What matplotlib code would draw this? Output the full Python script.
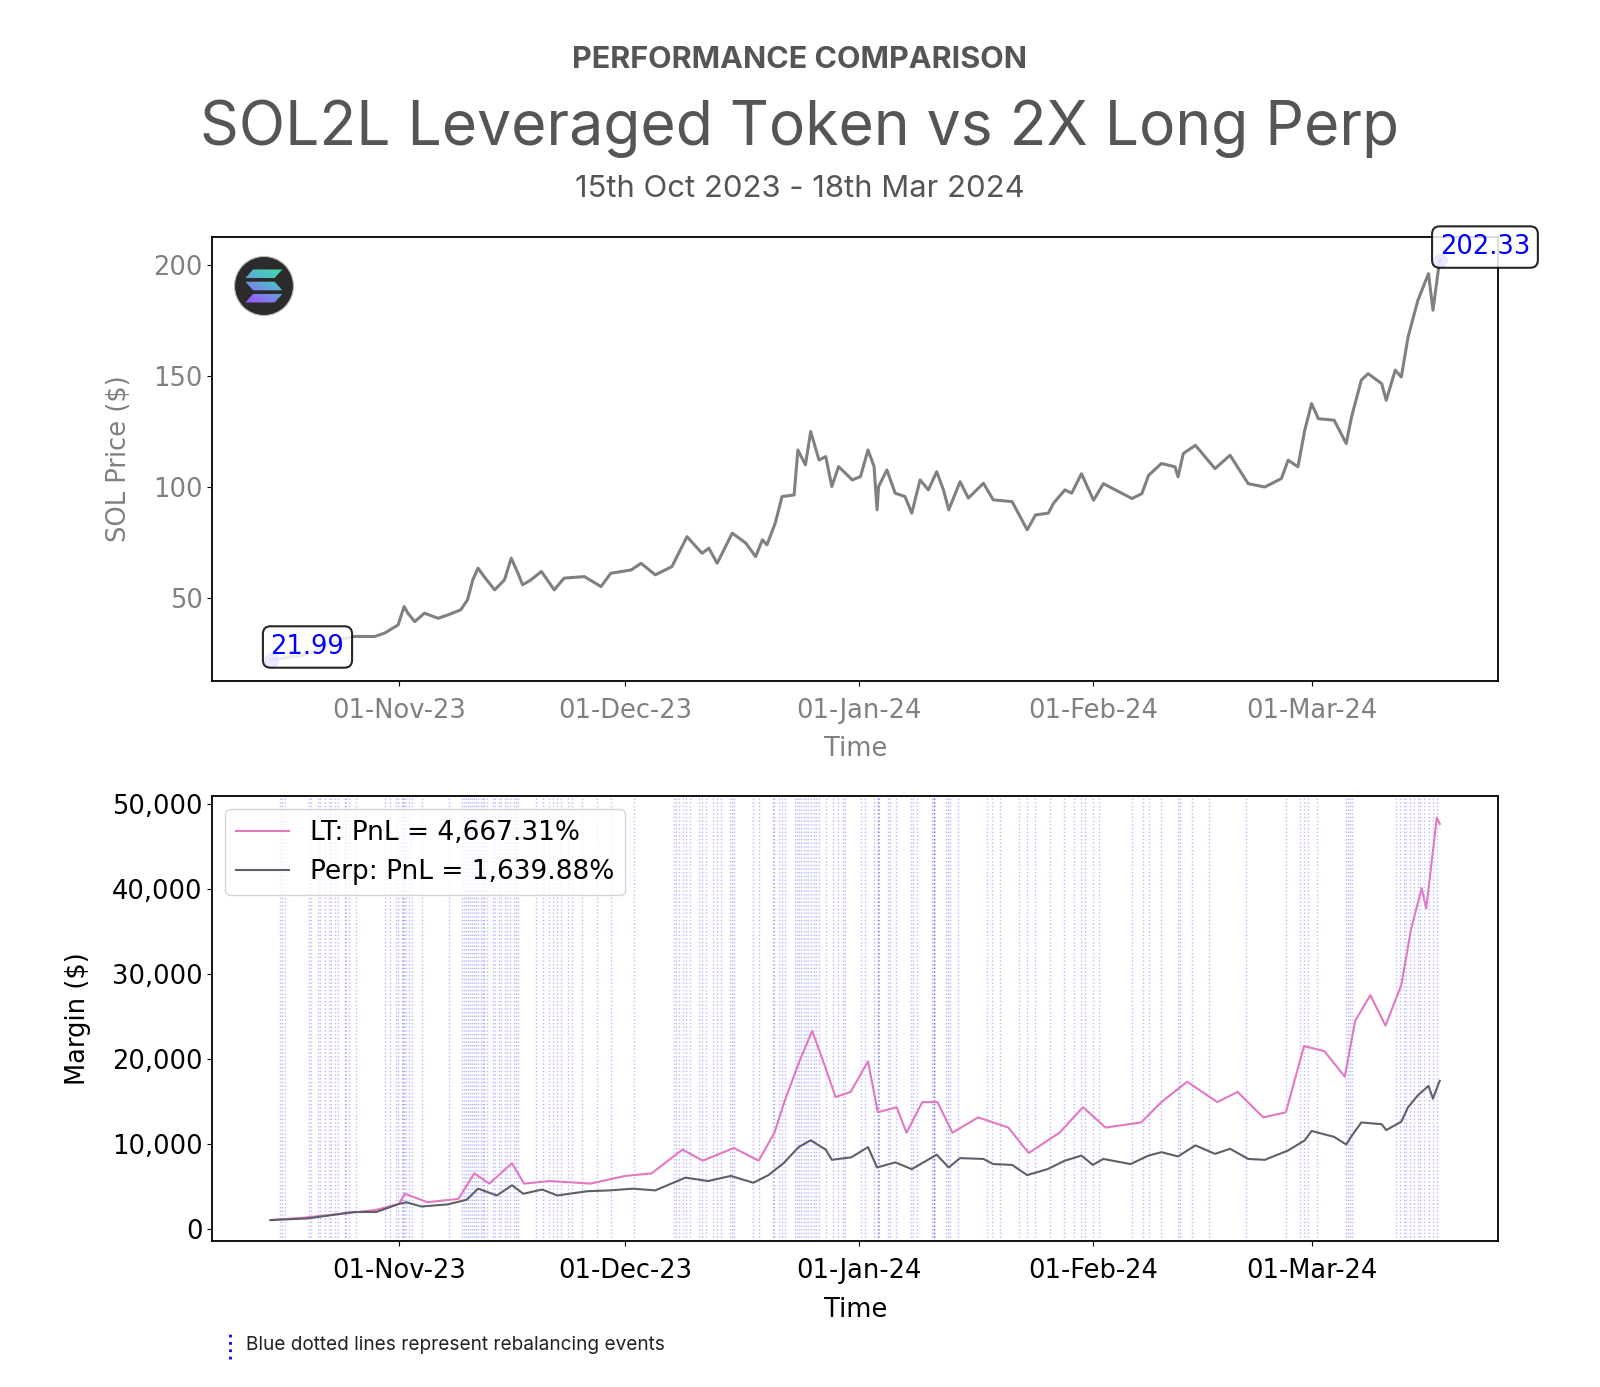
import numpy as np
import pandas as pd
import matplotlib
matplotlib.use("Agg")
from matplotlib import pyplot as plt
import matplotlib.dates as mdates
from matplotlib.patches import Circle, Polygon
from matplotlib.lines import Line2D
from matplotlib.colors import LinearSegmentedColormap
from matplotlib.ticker import FuncFormatter

plt.rcParams["font.family"] = "DejaVu Sans"

start = pd.Timestamp("2023-10-15")

# SOL price (days after 15 Oct 2023, $)
price_days = [0, 3, 5, 7, 9, 11.1, 13.8, 15.1, 16.9, 17.7, 18.2, 19.1, 20.4, 22.2, 23.5,
              25.2, 26.1, 26.8, 27.5, 28.3, 29.7, 31.0, 31.9, 32.8, 33.4, 34.5, 35.9,
              37.6, 38.9, 41.6, 43.8, 45.1, 47.8, 49.1, 51.0, 53.2, 55.2, 57.2, 58.1,
              59.2, 61.2, 63.0, 64.3, 65.2, 65.8, 66.9, 67.8, 69.4, 69.9, 70.9, 71.6,
              72.7, 73.6, 74.4, 75.3, 77.1, 78.2, 79.2, 80.0, 80.4, 80.6, 81.7, 82.8,
              84.1, 85.0, 86.1, 87.2, 88.3, 89.2, 89.9, 91.4, 92.5, 94.5, 95.8, 98.3,
              100.3, 101.4, 103.1, 103.8, 105.3, 106.2, 107.5, 109.1, 110.4, 114.2,
              115.5, 116.4, 118.1, 119.9, 120.3, 121.0, 122.6, 125.2, 127.2, 129.6,
              131.8, 134.0, 134.9, 136.2, 137.1, 138.0, 138.9, 141.0, 142.6, 143.3,
              144.6, 145.5, 147.3, 147.9, 149.1, 149.9, 150.8, 152.1, 153.5, 154.1,
              154.8, 155.0]
price_vals = [21.99, 23.5, 24.5, 28.0, 31.0, 32.6, 32.6, 34.1, 37.8, 46.1, 43.1, 39.3, 43.1,
              40.8, 42.3, 44.6, 49.1, 58.1, 63.4, 59.6, 53.6, 58.1, 67.9, 61.1, 55.9,
              58.1, 61.9, 53.6, 58.9, 59.6, 55.1, 61.1, 62.6, 65.6, 60.4, 64.1, 77.6,
              70.1, 72.4, 65.6, 79.2, 74.7, 68.6, 76.2, 73.9, 83.7, 95.7, 96.4, 116.7,
              110.0, 125.0, 112.2, 113.7, 100.2, 109.2, 103.2, 104.7, 116.7, 109.2,
              89.7, 100.2, 107.7, 97.2, 95.7, 88.2, 103.2, 98.7, 106.9, 98.7, 89.7,
              102.4, 95.0, 101.7, 94.2, 93.4, 80.7, 87.4, 88.2, 92.7, 98.7, 97.2,
              106.0, 94.0, 101.5, 94.8, 97.0, 105.3, 110.6, 109.1, 104.6, 115.1, 118.8,
              108.3, 114.3, 101.5, 100.0, 103.8, 112.1, 109.1, 125.6, 137.6, 130.8,
              130.1, 119.6, 131.6, 148.2, 151.1, 146.6, 139.1, 152.7, 149.6, 167.7,
              184.2, 196.2, 179.7, 197.7, 202.33]

# Margin of the leveraged token and the 2x perp ($)
lt_days = [0, 4.6, 10, 14, 17, 17.8, 20.8, 24.9, 27, 29, 32, 33.6, 37, 42.4, 47, 50.5,
           54.6, 57.3, 61.4, 64.7, 66.8, 68.1, 70.1, 71.8, 73.5, 74.9, 76.9, 79.2,
           80.5, 83, 84.3, 86.4, 88.4, 90.4, 93.8, 97.8, 100.5, 104.6, 107.7, 110.7,
           115.4, 118.1, 121.5, 125.5, 128.2, 131.6, 134.6, 137, 139.7, 142.4, 143.8,
           145.8, 147.8, 149.9, 151.2, 152.6, 153.2, 154.3, 154.6, 155]
lt_vals = [1000, 1300, 1800, 2200, 2900, 4100, 3100, 3500, 6500, 5300, 7700, 5300, 5600,
           5300, 6200, 6500, 9300, 8000, 9500, 8000, 11300, 14900, 19700, 23300, 19100,
           15500, 16100, 19700, 13700, 14300, 11300, 14900, 14900, 11300, 13100, 11900,
           8900, 11300, 14300, 11900, 12500, 14900, 17300, 14900, 16100, 13100, 13700,
           21500, 20900, 17900, 24500, 27500, 23900, 28700, 35300, 40100, 37700, 46100,
           48400, 47673]

perp_days = [0, 5, 11, 14, 17, 18, 20, 23.5, 26, 27.5, 30, 32, 33.5, 36, 38, 42, 45, 48,
             51, 55, 58, 61, 64, 66, 68, 70, 71.6, 73.6, 74.4, 77, 79.2, 80.4, 82.8, 85,
             88.3, 89.9, 91.4, 94.5, 95.8, 98.3, 100.3, 103, 105.3, 107.5, 109, 110.4,
             114, 116.4, 118.1, 120.3, 122.6, 125.2, 127.2, 129.6, 131.8, 134.9, 137.1,
             138, 141, 142.6, 143.3, 144.6, 147.3, 147.9, 149.9, 150.8, 152.1, 153.5,
             154.1, 154.8, 155]
perp_vals = [1000, 1200, 1950, 1950, 2900, 3100, 2600, 2850, 3400, 4700, 3900, 5100, 4100,
             4600, 3900, 4400, 4500, 4700, 4500, 6000, 5600, 6200, 5400, 6300, 7700,
             9600, 10400, 9300, 8100, 8400, 9600, 7200, 7800, 7000, 8700, 7200, 8300,
             8200, 7600, 7500, 6300, 7000, 8000, 8600, 7500, 8200, 7600, 8600, 9000,
             8500, 9800, 8800, 9400, 8200, 8100, 9200, 10400, 11500, 10800, 9900, 10900,
             12500, 12300, 11600, 12600, 14300, 15700, 16800, 15300, 17000, 17398.8]

lt_pnl = 4667.31
perp_pnl = 1639.88

# Rebalancing events (days after start)
rebal_days = [1.19, 1.47, 1.91, 5.03, 5.31, 6.30, 6.52, 7.23, 7.78, 8.06, 8.49, 8.89, 9.82,
              9.98, 10.42, 11.35, 15.19, 15.85, 16.67, 16.95, 17.39, 17.50, 17.67, 17.95,
              18.38, 18.77, 20.03, 23.60, 25.35, 25.63, 25.91, 26.17, 26.45, 26.73, 27.01,
              27.27, 27.55, 27.83, 28.11, 28.26, 28.65, 29.47, 29.75, 30.29, 30.57, 31.13,
              31.39, 31.67, 32.22, 32.49, 32.77, 35.24, 36.07, 36.89, 37.43, 37.99, 38.53,
              39.36, 39.91, 41.28, 43.21, 45.12, 48.15, 53.52, 53.75, 54.08, 54.62, 55.01,
              55.56, 56.82, 57.21, 57.75, 58.69, 59.13, 59.68, 60.89, 61.22, 61.43, 63.96,
              64.73, 66.54, 66.70, 67.36, 67.80, 68.19, 69.56, 69.84, 70.11, 70.38, 70.66,
              70.93, 71.21, 71.59, 72.03, 72.31, 72.74, 73.68, 74.50, 75.16, 75.87, 76.15,
              78.28, 78.83, 79.93, 80.48, 80.50, 80.60, 81.85, 82.13, 82.95, 84.87, 85.15,
              85.70, 87.62, 87.89, 87.91, 88.00, 89.54, 89.81, 90.09, 91.19, 95.03, 95.58,
              96.68, 99.15, 100.25, 101.35, 103.27, 105.19, 106.57, 107.39, 107.93,
              109.03, 109.85, 114.25, 115.63, 116.45, 118.09, 120.29, 120.57, 122.21,
              124.41, 129.35, 134.57, 136.49, 137.03, 137.59, 138.69, 142.53, 142.81,
              143.09, 143.37, 149.13, 149.67, 150.23, 150.50, 151.05, 151.59, 152.15,
              152.42, 152.97, 153.52, 154.07, 154.62]

price_dates = start + pd.to_timedelta(price_days, unit="D")
lt_dates = start + pd.to_timedelta(lt_days, unit="D")
perp_dates = start + pd.to_timedelta(perp_days, unit="D")
rebal_dates = start + pd.to_timedelta(rebal_days, unit="D")

tick_fs = 18.5
fig = plt.figure(figsize=(16, 13.87), dpi=100)

# Header
fig.text(0.5, 0.9568, "PERFORMANCE COMPARISON", ha="center", va="center",
         family="Inter", weight="bold", fontsize=22, color="#555555")
fig.text(0.5, 0.907, "SOL2L Leveraged Token vs 2X Long Perp", ha="center", va="center",
         family="Inter", fontsize=43.6, color="#555555")
fig.text(0.5, 0.8635, "15th Oct 2023 - 18th Mar 2024", ha="center", va="center",
         family="Inter", fontsize=22.3, color="#555555")

#Top panel: SOL price
ax1 = fig.add_axes([0.1326, 0.5093, 0.8038, 0.3201])
ax1.plot(price_dates, price_vals, color="gray", linewidth=2.2)
ax1.scatter([price_dates[0], price_dates[-1]], [price_vals[0], price_vals[-1]],
            s=90, color="blue", alpha=0.5, zorder=3)
for d, v in [(price_dates[0], price_vals[0]), (price_dates[-1], price_vals[-1])]:
    ax1.annotate(f"{v:.2f}", (d, v), ha="left", va="bottom", color="blue",
                 fontsize=tick_fs, zorder=4, annotation_clip=False,
                 bbox=dict(boxstyle="round,pad=0.3", fc="white", ec="black",
                           lw=1.5, alpha=0.85))
ax1.set_ylim(12.7, 212.9)
ax1.set_yticks([50, 100, 150, 200])
ax1.set_ylabel("SOL Price ($)", fontsize=tick_fs, color="gray", labelpad=15)
ax1.set_xlabel("Time", fontsize=tick_fs, color="gray", labelpad=9)
ax1.tick_params(labelsize=tick_fs, labelcolor="gray")

#Bottom panel: margin
ax2 = fig.add_axes([0.1326, 0.1054, 0.8038, 0.3207])
for d in rebal_dates:
    ax2.axvline(d, color="blue", linestyle=":", linewidth=1, alpha=0.28)
ax2.plot(lt_dates, lt_vals, color="#e377c2", linewidth=1.5,
         label=f"LT: PnL = {lt_pnl:,.2f}%")
ax2.plot(perp_dates, perp_vals, color="#5f5f6a", linewidth=1.5,
         label=f"Perp: PnL = {perp_pnl:,.2f}%")
ax2.set_ylim(-1442, 50961)
ax2.set_yticks([0, 10000, 20000, 30000, 40000, 50000])
ax2.yaxis.set_major_formatter(FuncFormatter(lambda v, p: f"{v:,.0f}"))
ax2.set_ylabel("Margin ($)", fontsize=tick_fs, labelpad=15)
ax2.set_xlabel("Time", fontsize=tick_fs, labelpad=9)
ax2.tick_params(labelsize=tick_fs)
ax2.legend(loc="upper left", fontsize=19)

for ax in (ax1, ax2):
    ax.set_xlim(start - pd.Timedelta(days=7.75), start + pd.Timedelta(days=162.75))
    ax.xaxis.set_major_locator(mdates.MonthLocator())
    ax.xaxis.set_major_formatter(mdates.DateFormatter("%d-%b-%y"))
    ax.tick_params(axis="x", pad=9)
    for s in ax.spines.values():
        s.set_linewidth(1.3)

# SOL logo
lax = fig.add_axes([(264 - 31) / 1600, 1 - (286 + 31) / 1387, 62 / 1600, 62 / 1387])
lax.set_aspect("equal")
lax.axis("off")
lax.add_patch(Circle((0, 0), 1, fc="#2b2b2b", ec="#bbbbbb", lw=0.8, zorder=1))
cmap = LinearSegmentedColormap.from_list("sol", ["#9b55f7", "#7a86e6", "#52b8cc", "#42d8b0"])
gx, gy = np.meshgrid(np.linspace(-1, 1, 60), np.linspace(-1, 1, 60))
grad = gx * 0.5 + gy
bars = [[(-0.63, 0.27), (0.36, 0.27), (0.62, 0.56), (-0.37, 0.56)],
        [(-0.63, 0.145), (0.36, 0.145), (0.62, -0.145), (-0.37, -0.145)],
        [(-0.63, -0.56), (0.36, -0.56), (0.62, -0.27), (-0.37, -0.27)]]
for b in bars:
    poly = Polygon(b, closed=True, fc="none", ec="none", transform=lax.transData)
    im = lax.imshow(grad, extent=(-1, 1, -1, 1), origin="lower", cmap=cmap,
                    vmin=-0.8, vmax=0.75, zorder=2)
    im.set_clip_path(poly)
lax.set_xlim(-1.05, 1.05)
lax.set_ylim(-1.05, 1.05)

# Footer note
fig.add_artist(Line2D([0.1435, 0.1435], [0.0200, 0.0385], transform=fig.transFigure,
                      color="blue", linestyle=":", linewidth=2))
fig.text(0.154, 0.0303, "Blue dotted lines represent rebalancing events", ha="left",
         va="center", family="Inter", fontsize=13.7, color="#222222")

plt.savefig("out.png", dpi=100)
